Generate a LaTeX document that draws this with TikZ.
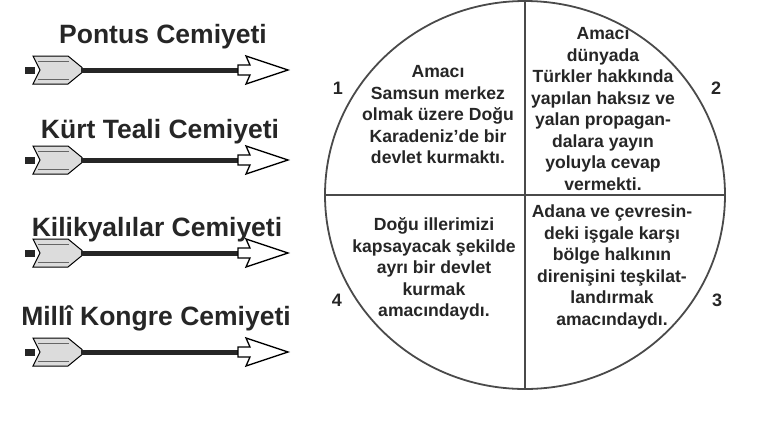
\documentclass[tikz,border=0pt]{standalone}
\usepackage{fontspec}
\setmainfont{Liberation Sans}
\usetikzlibrary{shapes.geometric}
\definecolor{inkdark}{HTML}{262626}
\definecolor{rimgray}{HTML}{4A4A4A}
\definecolor{featherfill}{HTML}{DCDCDC}

\tikzset{
  society/.style={anchor=base, font=\bfseries\fontsize{26.5}{29}\selectfont, text=inkdark},
  aimtext/.style={align=center, inner sep=0pt, font=\bfseries\fontsize{17.6}{21.5}\selectfont, text=inkdark},
  quadnum/.style={font=\bfseries\fontsize{18}{20}\selectfont, text=inkdark},
  cemarrow/.pic={
    % nock
    \fill[inkdark] (0,-3.5) rectangle (10,3.5);
    % feathers
    \draw[fill=featherfill, line width=1pt] (8,-14) -- (43,-14) -- (57,-2.5) -- (57,2.5) -- (43,14) -- (8,14) -- (15,0) -- cycle;
    \draw[gray!80!black, line width=0.9pt] (13,-9) -- (44,-9) (13,9) -- (44,9);
    % shaft
    \draw[inkdark, line width=5pt] (56,0) -- (214,0);
    % head
    \draw[fill=white, line width=1.3pt, line join=miter] (213,-5) -- (225,-5) -- (221,-14) -- (263,0) -- (221,14) -- (225,5) -- (213,5) -- cycle;
  }
}

\begin{document}
\begin{tikzpicture}[x=1pt, y=-1pt]
\useasboundingbox (0,0) rectangle (760,445);

% Societies and arrows
\node[society] (pontus) at (163,43) {Pontus Cemiyeti};
\pic at (25,70) {cemarrow};
\node[society] (kurt) at (160,138) {Kürt Teali Cemiyeti};
\pic at (25,160) {cemarrow};
\node[society] (kilik) at (157,236) {Kilikyalılar Cemiyeti};
\pic at (25,253) {cemarrow};
\node[society] (milli) at (156,325) {Millî Kongre Cemiyeti};
\pic at (25,352) {cemarrow};

% Disc with four quarters
\node[ellipse, draw=rimgray, line width=1.8pt, minimum width=400pt, minimum height=388pt, inner sep=0pt] (disc) at (525,195) {};
\draw[rimgray, line width=1.6pt] (disc.north) -- (disc.south);
\draw[rimgray, line width=1.6pt] (disc.west) -- (disc.east);

% Quarter texts
\node[aimtext] (aim1) at (438,115) {Amacı\\Samsun merkez\\olmak üzere Doğu\\Karadeniz'de bir\\devlet kurmaktı.};
\node[aimtext] (aim2) at (603,109) {Amacı\\dünyada\\Türkler hakkında\\yapılan haksız ve\\yalan propagan-\\dalara yayın\\yoluyla cevap\\vermekti.};
\node[aimtext] (aim3) at (612,267) {Adana ve çevresin-\\deki işgale karşı\\bölge halkının\\direnişini teşkilat-\\landırmak\\amacındaydı.};
\node[aimtext] (aim4) at (434,269) {Doğu illerimizi\\kapsayacak şekilde\\ayrı bir devlet\\kurmak\\amacındaydı.};

% Numbers
\node[quadnum] (n1) at (338,88) {1};
\node[quadnum] (n2) at (716,88) {2};
\node[quadnum] (n3) at (717,300) {3};
\node[quadnum] (n4) at (337,300) {4};

\end{tikzpicture}
\end{document}
